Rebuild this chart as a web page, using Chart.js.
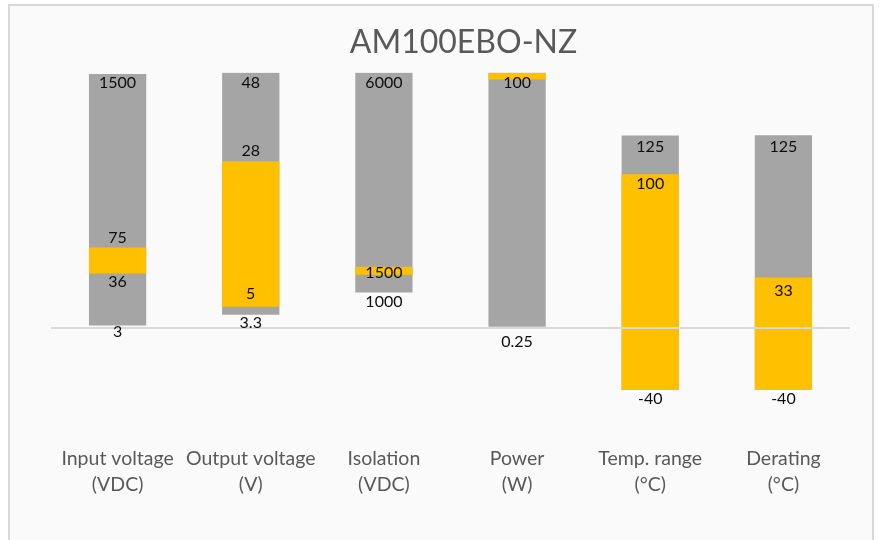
<!DOCTYPE html>
<html>
<head>
<meta charset="utf-8">
<script src="https://cdn.jsdelivr.net/npm/chart.js@4.4.1/dist/chart.umd.min.js"></script>
<style>
  html, body { margin: 0; padding: 0; background: #ffffff; width: 880px; height: 540px; overflow: hidden; }
  #panel { position: absolute; left: 8px; top: 4px; width: 866px; height: 540px; border: 2px solid #d9d9d9; background: #fafafa; box-sizing: border-box; }
  #c { position: absolute; left: 0; top: 0; }
</style>
</head>
<body>
<div id="panel"></div>
<canvas id="c" width="880" height="540"></canvas>
<script>
// Category labels (two lines each)
const categories = [
  ["Input voltage", "(VDC)"],
  ["Output voltage", "(V)"],
  ["Isolation", "(VDC)"],
  ["Power", "(W)"],
  ["Temp. range", "(°C)"],
  ["Derating", "(°C)"]
];
// Plotted extents (chart units)
const grayLow    = [1.8, 8.8, 23.2, 1.0, -40, -40];
const grayHigh   = [165.0, 165.7, 165.7, 165.7, 125, 125.3];
const yellowLow  = [35.6, 14.0, 34.7, 161.4, -40, -40];
const yellowHigh = [52.5, 108.3, 40.0, 165.7, 100, 33];
// Data label texts and the chart value where each is shown
const labelText = [
  ["1500", "75", "36", "3"],
  ["48", "28", "5", "3.3"],
  ["6000", "1500", "1000"],
  ["100", "0.25"],
  ["125", "100", "-40"],
  ["125", "33", "-40"]
];
const labelValue = [
  [159.0, 58.7, 30.4, -2.3],
  [159.4, 115.1, 22.2, 3.4],
  [159.0, 35.8, 17.0],
  [159.4, -8.6],
  [117.9, 93.5, -45.5],
  [117.5, 24.5, -45.5]
];
const titleText = "AM100EBO-NZ";

const grayData = grayLow.map((v, i) => [v, grayHigh[i]]);
const yellowData = yellowLow.map((v, i) => [v, yellowHigh[i]]);

const labelPlugin = {
  id: 'rangeLabels',
  afterDraw(chart) {
    const ctx = chart.ctx;
    const xs = chart.scales.x, ys = chart.scales.y;
    ctx.save();
    ctx.font = '16px Lato';
    ctx.fillStyle = '#0d0d0d';
    ctx.textAlign = 'center';
    ctx.textBaseline = 'middle';
    labelText.forEach((arr, i) => {
      const x = xs.getPixelForValue(i);
      arr.forEach((t, j) => {
        ctx.fillText(t, x, ys.getPixelForValue(labelValue[i][j]));
      });
    });
    ctx.restore();
  }
};

new Chart(document.getElementById('c'), {
  type: 'bar',
  data: {
    labels: categories,
    datasets: [
      { label: 'Typical', data: yellowData, backgroundColor: '#ffc000', borderWidth: 0, barPercentage: 0.43, categoryPercentage: 1.0 },
      { label: 'Range', data: grayData, backgroundColor: '#a5a5a5', borderWidth: 0, barPercentage: 0.43, categoryPercentage: 1.0 }
    ]
  },
  options: {
    responsive: false,
    devicePixelRatio: 1,
    animation: false,
    layout: { padding: { left: 47, right: 0, top: 0, bottom: 42 } },
    plugins: {
      legend: { display: false },
      tooltip: { enabled: false },
      title: {
        display: true,
        text: titleText,
        color: '#595959',
        font: { family: 'Lato', size: 32, weight: 'normal', lineHeight: 1.2 },
        padding: { top: 23, bottom: 11 }
      }
    },
    scales: {
      x: {
        stacked: true,
        grid: { display: false, drawTicks: false },
        border: { display: false },
        ticks: {
          color: '#595959',
          font: { family: 'Lato', size: 19.5, lineHeight: 26 / 19.5 },
          padding: 56,
          maxRotation: 0,
          autoSkip: false
        },
        afterFit: (s) => { s.height = 108; }
      },
      y: {
        stacked: false,
        position: 'left',
        min: -40,
        max: 166,
        border: { display: false },
        ticks: { display: false, stepSize: 20 },
        grid: {
          drawTicks: false,
          z: 1,
          lineWidth: 2,
          color: (c) => (c.tick && c.tick.value === 0) ? '#d9d9d9' : 'rgba(0,0,0,0)'
        },
        afterFit: (s) => { s.width = 4; }
      },
      y2: {
        position: 'right',
        min: -40,
        max: 166,
        border: { display: false },
        ticks: { display: false },
        grid: { display: false, drawTicks: false },
        afterFit: (s) => { s.width = 30; }
      }
    }
  },
  plugins: [labelPlugin]
});
</script>
</body>
</html>
